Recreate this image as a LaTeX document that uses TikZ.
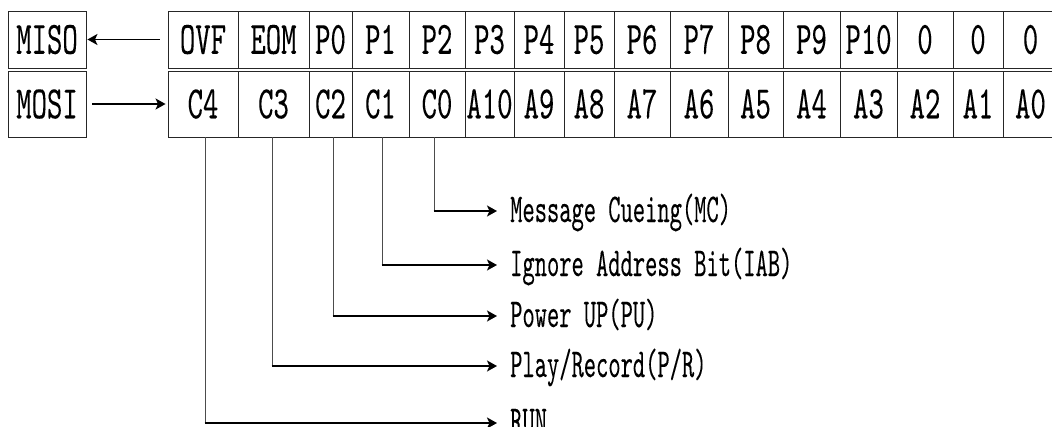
\documentclass[tikz,border=0pt]{standalone}
\usepackage{fontspec}
\newfontfamily\cellfont{lmmono10-regular.otf}[FakeStretch=0.63,FakeBold=0.1]
\newfontfamily\lblfont{lmmono10-regular.otf}[FakeStretch=0.57,FakeBold=0.1]
\usetikzlibrary{arrows.meta}
\tikzset{
  cellbox/.style={draw=black!85, line width=0.9pt, inner sep=0pt,
    font=\cellfont\fontsize{46.5}{46.5}\selectfont, text height=28.5pt, text depth=0pt},
  lbl/.style={anchor=base west, inner sep=0pt, font=\lblfont\fontsize{41}{41}\selectfont},
  headtip/.tip={Stealth[length=10pt,width=11pt,inset=2.5pt]},
  harrow/.style={line width=1.9pt, arrows={-headtip}},
  vline/.style={line width=1pt, draw=black!70}}
\begin{document}
\begin{tikzpicture}[x=1pt,y=-1pt]
\useasboundingbox (0,0) rectangle (1052,426);
% left boxes
\node[cellbox, minimum width=78pt, minimum height=57pt] (miso) at (47,39.5) {MISO};
\node[cellbox, minimum width=78pt, minimum height=66pt] (mosi) at (47,104) {MOSI};
% register table
\foreach \l/\r/\ta/\tb [count=\i] in {168/238/OVF/C4, 238/309/EOM/C3, 309/352/P0/C2,
  352/409/P1/C1, 409/465/P2/C0, 465/514/P3/A10, 514/564/P4/A9, 564/614/P5/A8,
  614/670/P6/A7, 670/728/P7/A6, 728/783/P8/A5, 783/840/P9/A4, 840/897/P10/A3,
  897/953/0/A2, 953/1003/0/A1, 1003/1058/0/A0} {
  \pgfmathsetmacro\w{\r-\l}
  \pgfmathsetmacro\c{(\r+\l)/2}
  \node[cellbox, minimum width=\w pt, minimum height=57pt] (t\i) at (\c,39.5) {\ta};
  \node[cellbox, minimum width=\w pt, minimum height=66pt] (b\i) at (\c,104) {\tb};
}
% MISO / MOSI arrows
\draw[harrow, shorten <=8pt, shorten >=1pt] (t1.west) -- (miso.east);
\draw[harrow, shorten <=6pt, shorten >=2pt] (mosi.east) -- (b1.west);
% arrow end points
\coordinate (amc) at (497,211);
\coordinate (aiab) at (497,265);
\coordinate (apu) at (497,316);
\coordinate (apr) at (497,366);
\coordinate (arun) at (497,423);
% labels
\node[lbl] (mc) at ([xshift=13pt,yshift=-11pt]amc) {Message Cueing(MC)};
\node[lbl] (iab) at ([xshift=13pt,yshift=-11pt]aiab) {Ignore Address Bit(IAB)};
\node[lbl] (pu) at ([xshift=13pt,yshift=-11pt]apu) {Power UP(PU)};
\node[lbl] (pr) at ([xshift=13pt,yshift=-11pt]apr) {Play/Record(P/R)};
\node[lbl] (run) at ([xshift=13pt,yshift=-11pt]arun) {RUN};
% connectors
\foreach \cell/\dx/\e in {b5/-3/amc, b4/1.5/aiab, b3/2.5/apu, b2/-1.5/apr, b1/2/arun} {
  \draw[vline] ([xshift=\dx pt]\cell.south) -- ([xshift=\dx pt]\cell.south |- \e);
  \draw[harrow] ([xshift=\dx pt-0.5pt]\cell.south |- \e) -- (\e);
}
\end{tikzpicture}
\end{document}
